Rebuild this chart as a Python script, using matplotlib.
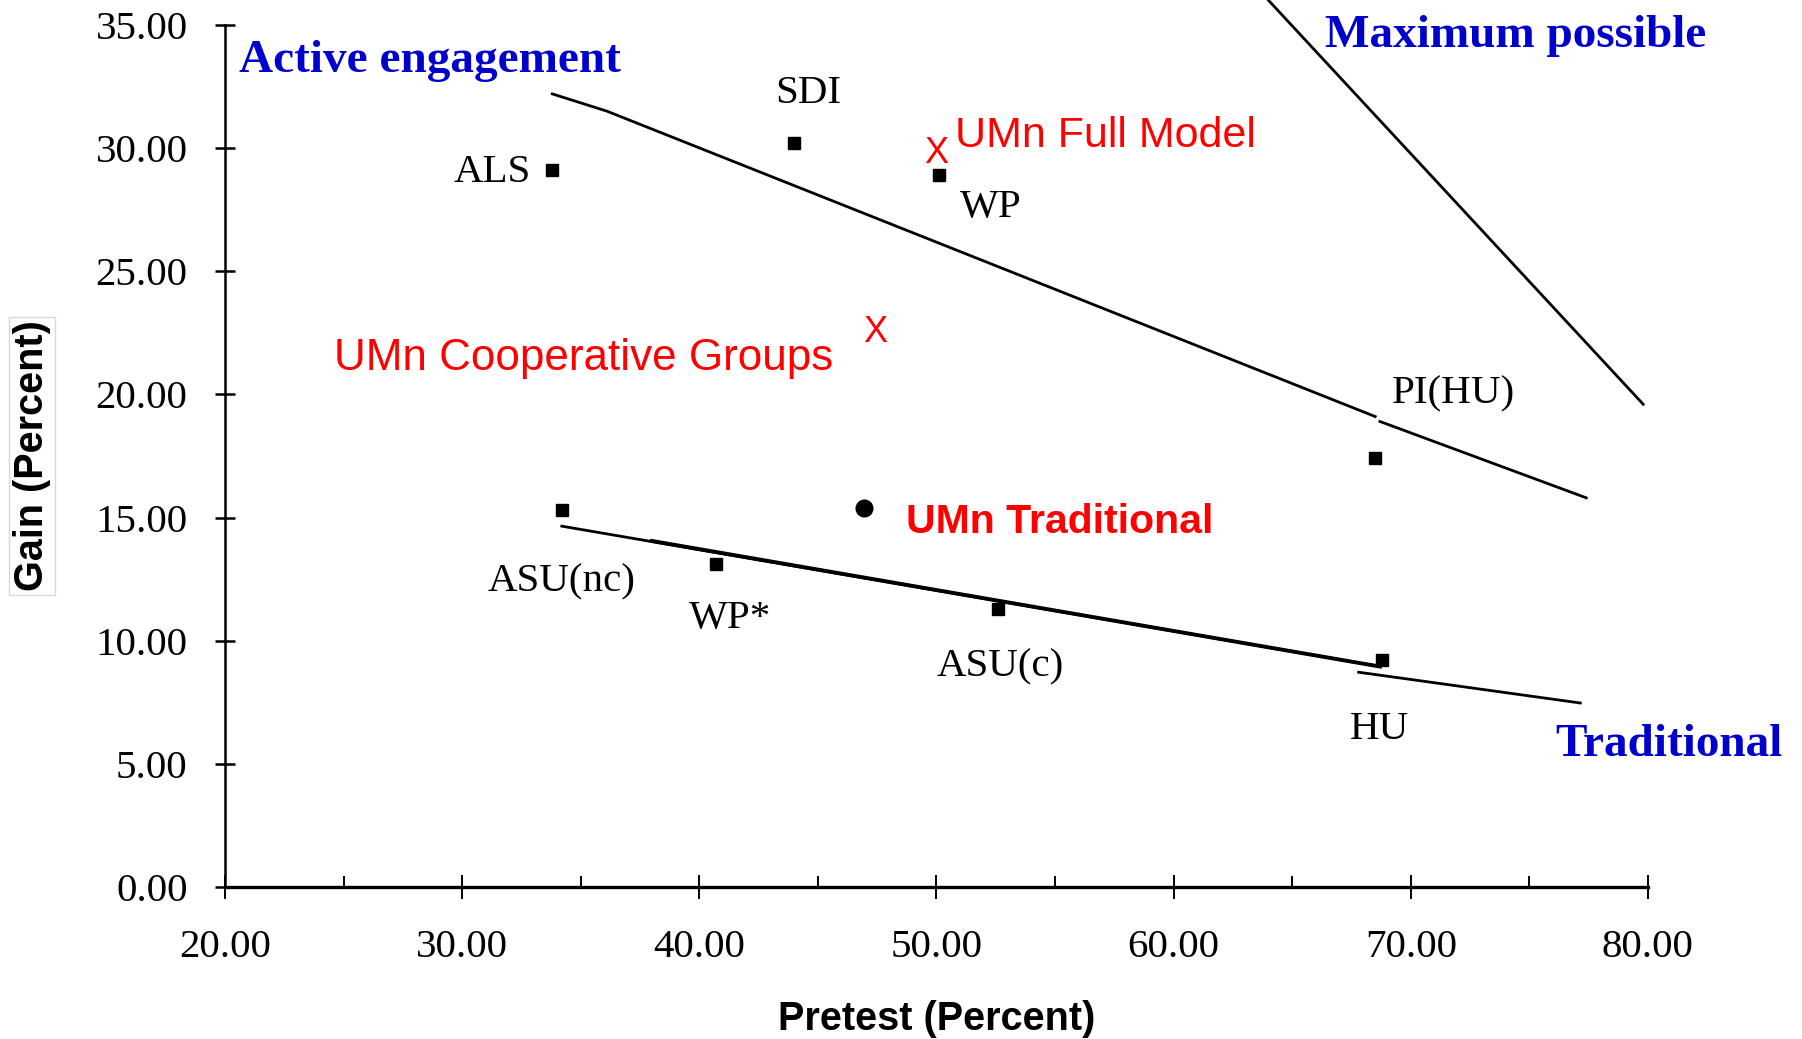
import matplotlib
matplotlib.use('Agg')
import matplotlib.pyplot as plt
from matplotlib.ticker import MultipleLocator, FormatStrFormatter

# ---- data ----
inst_names = ['ALS', 'SDI', 'WP', 'PI(HU)', 'ASU(nc)', 'WP*', 'ASU(c)', 'HU']
inst_pre = [33.8, 44.0, 50.1, 68.5, 34.2, 40.7, 52.6, 68.8]
inst_gain = [29.1, 30.2, 28.9, 17.4, 15.3, 13.1, 11.3, 9.2]
# label anchor points (data coords) and alignment
lab_x = [32.9, 44.6, 51.0, 69.2, 34.2, 41.3, 52.7, 68.7]
lab_y = [29.0, 32.2, 27.6, 20.0, 12.4, 10.9, 8.95, 6.4]
lab_ha = ['right', 'center', 'left', 'left', 'center', 'center', 'center', 'center']

umn_trad_pre = [46.95]
umn_trad_gain = [15.4]
umn_x_names = ['UMn Full Model', 'UMn Cooperative Groups']
umn_x_pre = [50.0, 47.4]
umn_x_gain = [29.8, 22.5]

# fitted lines (pieces as drawn in the original)
active_pre = [33.8, 36.1, 68.5]
active_gain = [32.2, 31.5, 19.1]
active2_pre = [68.7, 77.4]
active2_gain = [18.9, 15.8]

trad_pre = [34.2, 68.7]
trad_gain = [14.65, 8.95]
trad_dup_pre = [38.0, 68.7]
trad_dup_gain = [14.05, 8.95]
trad2_pre = [67.8, 77.15]
trad2_gain = [8.72, 7.47]

max_pre = [64.0, 79.8]
max_gain = [36.0, 19.6]

SERIF = 'Liberation Serif'
SANS = 'Liberation Sans'
BLUE = '#0000cc'
RED = '#ff0000'
LW = 2.0

fig = plt.figure(figsize=(18.02, 10.39), dpi=100)
ax = fig.add_axes([0.1249, 0.1463, 0.7896, 0.8297])

ax.set_xlim(20, 80)
ax.set_ylim(0, 35)
for s in ['top', 'right']:
    ax.spines[s].set_visible(False)
ax.spines['left'].set_linewidth(1.8)
ax.spines['bottom'].set_linewidth(2.4)

ax.xaxis.set_major_locator(MultipleLocator(10))
ax.xaxis.set_minor_locator(MultipleLocator(5))
ax.yaxis.set_major_locator(MultipleLocator(5))
ax.xaxis.set_major_formatter(FormatStrFormatter('%.2f'))
ax.yaxis.set_major_formatter(FormatStrFormatter('%.2f'))
ax.tick_params(axis='x', which='major', direction='inout', length=17, width=1.4, pad=22)
ax.tick_params(axis='x', which='minor', direction='in', length=8, width=1.4)
ax.tick_params(axis='y', which='major', direction='inout', length=14, width=1.8, pad=20)
for lab in ax.get_xticklabels() + ax.get_yticklabels():
    lab.set_fontfamily(SERIF)
    lab.set_fontsize(29.5)

ax.set_xlabel('Pretest (Percent)', fontfamily=SANS, fontweight='bold', fontsize=28.5, labelpad=24)
ax.set_ylabel('Gain (Percent)', fontfamily=SANS, fontweight='bold', fontsize=28.5, labelpad=32,
              bbox=dict(boxstyle='square,pad=0.1', fc='white', ec='#d8d8d8', lw=1))

# lines
ax.plot(active_pre, active_gain, color='black', lw=LW, clip_on=False)
ax.plot(active2_pre, active2_gain, color='black', lw=LW, clip_on=False)
ax.plot(trad_pre, trad_gain, color='black', lw=LW, clip_on=False)
ax.plot(trad_dup_pre, trad_dup_gain, color='black', lw=2.8, clip_on=False)
ax.plot(trad2_pre, trad2_gain, color='black', lw=LW, clip_on=False)
ax.plot(max_pre, max_gain, color='black', lw=LW, clip_on=False)

# institution points
ax.plot(inst_pre, inst_gain, 's', color='black', ms=8.5, ls='none', clip_on=False)
for name, x, y, ha in zip(inst_names, lab_x, lab_y, lab_ha):
    ax.text(x, y, name, fontfamily=SERIF, fontsize=29.5, ha=ha, va='center', color='black')

# UMn results
ax.plot(umn_trad_pre, umn_trad_gain, 'o', color='black', ms=12)
for x, y in zip(umn_x_pre, umn_x_gain):
    ax.text(x, y, 'X', fontfamily=SANS, fontsize=26, ha='center', va='center', color=RED)
ax.text(50.8, 30.5, umn_x_names[0], fontfamily=SANS, fontsize=31, ha='left', va='center', color=RED)
ax.text(24.6, 21.45, umn_x_names[1], fontfamily=SANS, fontsize=31.7, ha='left', va='center', color=RED)
ax.text(48.7, 14.8, 'UMn Traditional', fontfamily=SANS, fontweight='bold', fontsize=29.5,
        ha='left', va='center', color=RED)

# region labels
ax.text(20.6, 33.55, 'Active engagement', fontfamily=SERIF, fontweight='bold', fontsize=34,
        ha='left', va='center', color=BLUE)
ax.text(66.4, 34.55, 'Maximum possible', fontfamily=SERIF, fontweight='bold', fontsize=34,
        ha='left', va='center', color=BLUE, clip_on=False)
ax.text(76.1, 5.75, 'Traditional', fontfamily=SERIF, fontweight='bold', fontsize=34,
        ha='left', va='center', color=BLUE, clip_on=False)

fig.savefig('out.png', dpi=100)
